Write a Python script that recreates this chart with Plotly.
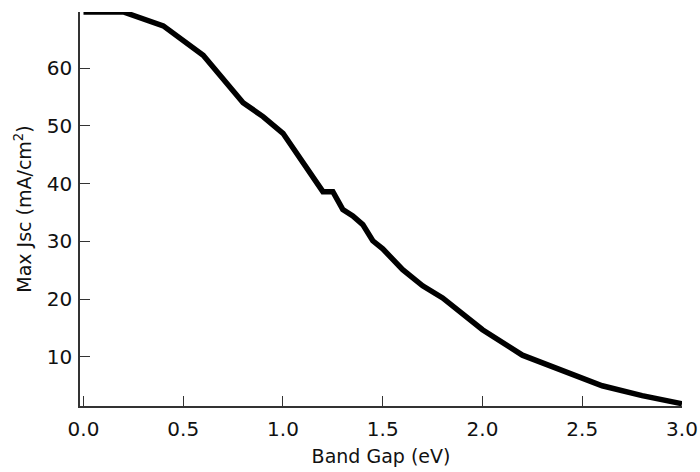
import plotly.graph_objects as go

band_gap = [0.0, 0.2, 0.4, 0.6, 0.8, 0.9, 1.0, 1.2, 1.25, 1.3, 1.35, 1.4, 1.45, 1.5,
            1.6, 1.7, 1.8, 1.9, 2.0, 2.2, 2.4, 2.6, 2.8, 3.0]
max_jsc = [69.7, 69.7, 67.3, 62.2, 54.0, 51.6, 48.7, 38.6, 38.6, 35.5, 34.4, 32.9, 30.1, 28.7,
           25.1, 22.3, 20.2, 17.5, 14.7, 10.3, 7.6, 5.0, 3.3, 1.9]

x_ticks = [0.0, 0.5, 1.0, 1.5, 2.0, 2.5, 3.0]
x_tick_labels = ["0.0", "0.5", "1.0", "1.5", "2.0", "2.5", "3.0"]
y_ticks = [10, 20, 30, 40, 50, 60]

FONT = "DejaVu Sans"
AX = "#333333"

fig = go.Figure()
fig.add_trace(go.Scatter(x=band_gap, y=max_jsc, mode="lines",
                         line=dict(color="black", width=5.5), showlegend=False,
                         cliponaxis=False))

fig.update_layout(
    width=700, height=472,
    margin=dict(l=80, r=18, t=12, b=66),
    paper_bgcolor="white", plot_bgcolor="white",
    font=dict(family=FONT, size=18, color="#111111"),
)
fig.update_xaxes(
    range=[-0.0175, 3.0], tickvals=x_ticks, ticktext=x_tick_labels,
    ticks="inside", ticklen=10, tickwidth=1, tickcolor=AX,
    showline=True, linecolor=AX, linewidth=1.5, showgrid=False, zeroline=False,
    tickfont=dict(size=20), ticklabelstandoff=4, automargin=False,
    title=dict(text="Band Gap (eV)", font=dict(size=19), standoff=10),
)
fig.update_yaxes(
    range=[1.5, 69.7], tickvals=y_ticks,
    ticks="inside", ticklen=10, tickwidth=1, tickcolor=AX,
    showline=True, linecolor=AX, linewidth=1.5, showgrid=False, zeroline=False,
    tickfont=dict(size=20), ticklabelstandoff=2, automargin=False,
    title=dict(text="Max Jsc (mA/cm<sup>2</sup>)", font=dict(size=19), standoff=10),
)

fig.write_html("out.html")
